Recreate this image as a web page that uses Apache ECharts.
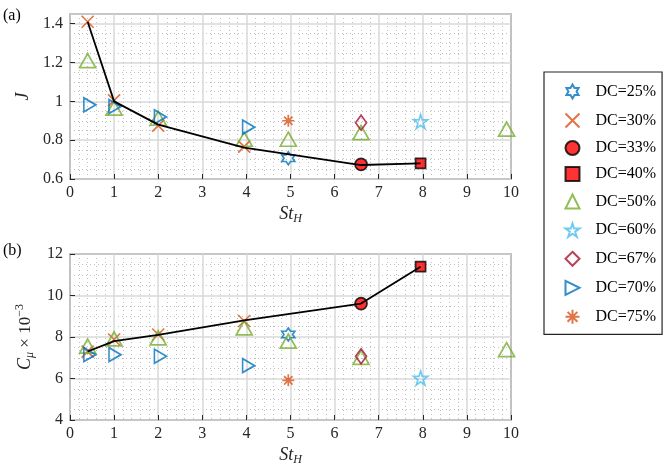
<!DOCTYPE html>
<html>
<head>
<meta charset="utf-8">
<script src="https://cdn.jsdelivr.net/npm/echarts@6/dist/echarts.min.js"></script>
<style>html,body{margin:0;padding:0;background:#fff}#main{width:664px;height:469px}</style>
</head>
<body>
<div id="main"></div>
<script>
// Strouhal number / duty cycle data
var dcNames = ['DC=25%', 'DC=30%', 'DC=33%', 'DC=40%', 'DC=50%', 'DC=60%', 'DC=67%', 'DC=70%', 'DC=75%'];

var st25 = [4.95],                 j25 = [0.707],                  cmu25 = [8.12];
var st30 = [0.4, 1, 2, 3.95],      j30 = [1.41, 1.005, 0.875, 0.767], cmu30 = [7.3, 7.88, 8.12, 8.77];
var st33 = [6.6],                  j33 = [0.675],                  cmu33 = [9.61];
var st40 = [7.95],                 j40 = [0.681],                  cmu40 = [11.39];
var st50 = [0.4, 1, 2, 3.95, 4.95, 6.6, 9.9];
var j50 = [1.21, 0.965, 0.913, 0.805, 0.805, 0.839, 0.857];
var cmu50 = [7.56, 7.91, 7.96, 8.44, 7.8, 7.02, 7.39];
var st60 = [7.95],                 j60 = [0.896],                  cmu60 = [6.02];
var st67 = [6.6],                  j67 = [0.89],                   cmu67 = [7.07];
var st70 = [0.45, 1.02, 2.05, 4.05], j70 = [0.982, 0.973, 0.92, 0.867], cmu70 = [7.15, 7.15, 7.07, 6.62];
var st75 = [4.95],                 j75 = [0.90],                   cmu75 = [5.91];

// optimum curve
var stOpt = [0.4, 1, 2, 3.95, 6.6, 7.95];
var jOpt = [1.41, 1.0, 0.88, 0.762, 0.672, 0.68];
var cmuOpt = [7.3, 7.8, 8.1, 8.8, 9.61, 11.39];

var xTicks = { min: 0, max: 10, step: 1 };
var jTicks = { min: 0.6, max: 1.45, step: 0.2 };
var cmuTicks = { min: 4, max: 12, step: 2 };

// ==============================

var myChart = echarts.init(document.getElementById('main'));

var blue = '#0072BD', orange = '#D95319', green = '#77AC30', cyan = '#4DBEEE', wine = '#A2142F';
var serif = 'Liberation Serif';

var hexPath = 'path://M5,0L6.443,2.5L9.33,2.5L7.887,5L9.33,7.5L6.443,7.5L5,10L3.557,7.5L0.67,7.5L2.113,5L0.67,2.5L3.557,2.5Z';
var starPath = 'path://M5,0L6.123,3.455L9.755,3.455L6.816,5.59L7.939,9.045L5,6.91L2.061,9.045L3.184,5.59L0.245,3.455L3.877,3.455Z';
var crossPath = 'path://M0,0L10,10M10,0L0,10';
var astPath = 'path://M5,0L5,10M0,5L10,5M1.5,1.5L8.5,8.5M8.5,1.5L1.5,8.5';
var rightTri = 'path://M0,0L10,5L0,10Z';

var looks = [
	{ symbol: hexPath, size: 13, fill: 'none', edge: blue },
	{ symbol: crossPath, size: 12, fill: 'none', edge: orange },
	{ symbol: 'circle', size: 12, fill: '#FF0000', edge: '#000' },
	{ symbol: 'rect', size: 10, fill: '#FF0000', edge: '#000' },
	{ symbol: 'triangle', size: [16, 14], fill: 'none', edge: green },
	{ symbol: starPath, size: 14, fill: 'none', edge: cyan },
	{ symbol: 'diamond', size: [11, 15], fill: 'none', edge: wine },
	{ symbol: rightTri, size: [12, 14], fill: 'none', edge: blue },
	{ symbol: astPath, size: 12, fill: 'none', edge: orange }
];

var stSets = [st25, st30, st33, st40, st50, st60, st67, st70, st75];
var jSets = [j25, j30, j33, j40, j50, j60, j67, j70, j75];
var cmuSets = [cmu25, cmu30, cmu33, cmu40, cmu50, cmu60, cmu67, cmu70, cmu75];

function pairs(xs, ys) {
	var out = [];
	for (var i = 0; i < xs.length; i++) {
		out.push([xs[i], ys[i]]);
	}
	return out;
}

var series = [];
dcNames.forEach(function(name, k) {
	var lk = looks[k];
	[jSets[k], cmuSets[k]].forEach(function(ys, g) {
		series.push({
			name : name,
			type : 'scatter',
			xAxisIndex : g,
			yAxisIndex : g,
			symbol : lk.symbol,
			symbolSize : lk.size,
			itemStyle : {
				color : lk.fill,
				borderColor : lk.edge,
				borderWidth : 1.7
			},
			z : 2,
			data : pairs(stSets[k], ys)
		});
	});
});

[jOpt, cmuOpt].forEach(function(ys, g) {
	series.push({
		type : 'line',
		xAxisIndex : g,
		yAxisIndex : g,
		symbol : 'none',
		lineStyle : { color : '#000', width : 1.8 },
		z : 3,
		silent : true,
		data : pairs(stOpt, ys)
	});
});

var subRich = {
	i : { fontFamily : serif, fontStyle : 'italic', fontSize : 18, color : '#262626' },
	s : { fontFamily : serif, fontStyle : 'italic', fontSize : 12, color : '#262626', padding : [10, 0, 0, 0] },
	n : { fontFamily : serif, fontSize : 17, color : '#262626' },
	p : { fontFamily : serif, fontSize : 12, color : '#262626', padding : [0, 0, 10, 0] }
};

function xAxisFor(g) {
	return {
		type : 'value',
		gridIndex : g,
		min : xTicks.min,
		max : xTicks.max,
		interval : xTicks.step,
		name : '{i|St}{s|H}',
		nameLocation : 'middle',
		nameGap : 24,
		nameTextStyle : { rich : subRich },
		axisLine : { show : false },
		axisTick : { inside : true, length : 5, lineStyle : { color : '#262626' } },
		axisLabel : { fontFamily : serif, fontSize : 16, color : '#262626', margin : 6 },
		splitLine : { lineStyle : { color : '#d8d8d8', width : 1.5 } },
		minorSplitLine : { show : true, lineStyle : { color : '#c0c0c0', type : [1, 3], width : 1 } },
		minorTick : { show : false, splitNumber : 5 }
	};
}

function yAxisFor(g, t, name, gap) {
	return {
		type : 'value',
		gridIndex : g,
		min : t.min,
		max : t.max,
		interval : t.step,
		name : name,
		nameLocation : 'middle',
		nameGap : gap,
		nameTextStyle : { rich : subRich },
		axisLine : { show : false },
		axisTick : { inside : true, length : 5, lineStyle : { color : '#262626' } },
		axisLabel : { fontFamily : serif, fontSize : 16, color : '#262626', margin : 7, showMaxLabel : t.max % t.step === 0 },
		splitLine : { lineStyle : { color : '#d8d8d8', width : 1.5 } },
		minorSplitLine : { show : true, lineStyle : { color : '#c0c0c0', type : [1, 3], width : 1 } },
		minorTick : { show : false, splitNumber : 4 }
	};
}

var option = {
	backgroundColor : '#FFFFFF',
	animation : false,
	grid : [{
		left : 70, top : 14, width : 441, height : 165,
		show : true, borderColor : '#262626', borderWidth : 1.2
	}, {
		left : 70, top : 254, width : 441, height : 166,
		show : true, borderColor : '#262626', borderWidth : 1.2
	}],
	xAxis : [xAxisFor(0), xAxisFor(1)],
	yAxis : [
		yAxisFor(0, jTicks, '{i|J}', 38),
		yAxisFor(1, cmuTicks, '{i|C}{s|μ}{n| × 10}{p|−3}', 31)
	],
	legend : {
		orient : 'vertical',
		left : 544,
		top : 72,
		data : dcNames,
		padding : [10, 6, 8, 19],
		itemWidth : 14,
		itemHeight : 14,
		itemGap : 10,
		borderColor : '#262626',
		borderWidth : 1.2,
		backgroundColor : '#fff',
		selectedMode : false,
		textStyle : { fontFamily : serif, fontSize : 16, color : '#000', padding : [0, 0, 0, 11] }
	},
	graphic : [
		{ type : 'text', left : 3, top : 8, style : { text : '(a)', font : '16px "Liberation Serif"', fill : '#000' } },
		{ type : 'text', left : 3, top : 243, style : { text : '(b)', font : '16px "Liberation Serif"', fill : '#000' } }
	],
	series : series
};

myChart.setOption(option);
</script>
</body>
</html>
